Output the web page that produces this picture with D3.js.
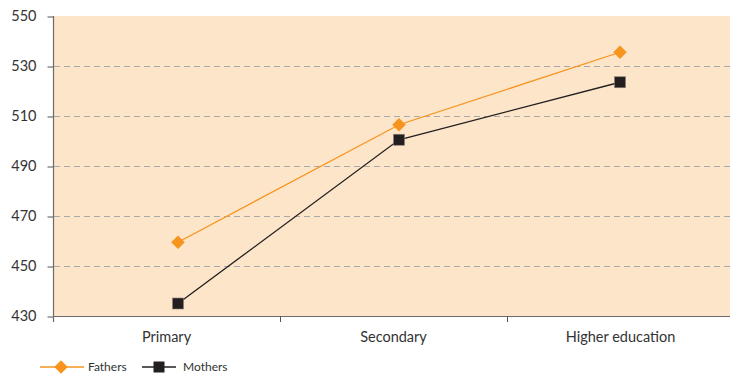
<!DOCTYPE html>
<html>
<head>
<meta charset="utf-8">
<script src="https://cdn.jsdelivr.net/npm/d3@7"></script>
<style>
  html, body { margin: 0; padding: 0; background: #fff; }
  svg { display: block; font-family: Lato, "Open Sans", sans-serif; }
</style>
</head>
<body>
<svg id="chart" width="730" height="374"></svg>
<script>
// Performance by parents' highest level of education
const categories = ["Primary", "Secondary", "Higher education"];
const fathers = [459.5, 506.5, 535.5];
const mothers = [435, 500.5, 523.5];
const yTicks = [430, 450, 470, 490, 510, 530, 550];

const svg = d3.select("#chart");
const plotLeft = 53, plotRight = 734, plotTop = 16, plotBottom = 316;
const fontFamily = "Lato, \"Open Sans\", sans-serif";

const y = d3.scaleLinear().domain([430, 550]).range([plotBottom, plotTop]);
const xBand = d3.scaleBand().domain(categories).range([plotLeft, plotRight]);
const xPoint = d3.scalePoint().domain(categories).range([178, 620]);

// plot background
svg.append("rect")
  .attr("x", plotLeft).attr("y", plotTop)
  .attr("width", 730 - plotLeft).attr("height", plotBottom - plotTop)
  .attr("fill", "#fde5ca");

// dashed gridlines
svg.append("g")
  .selectAll("line")
  .data(yTicks.filter(d => d > 430 && d < 550))
  .join("line")
  .attr("x1", plotLeft + 1).attr("x2", 730)
  .attr("y1", d => y(d) + 0.5).attr("y2", d => y(d) + 0.5)
  .attr("stroke", "#a9a9a9")
  .attr("stroke-width", 1)
  .attr("stroke-dasharray", "6,4");

// y axis
const yAxis = svg.append("g")
  .attr("transform", `translate(${plotLeft + 0.5},0)`)
  .call(d3.axisLeft(y).tickValues(yTicks).tickSize(6).tickPadding(11).tickFormat(d3.format("d")));
yAxis.select(".domain").remove();
yAxis.selectAll(".tick line").attr("stroke", "#555").attr("transform", "translate(0,0.5)");
yAxis.selectAll(".tick text")
  .attr("fill", "#333").attr("font-size", 14.5)
  .attr("font-family", fontFamily);
svg.append("line")
  .attr("x1", plotLeft + 0.5).attr("x2", plotLeft + 0.5)
  .attr("y1", plotTop).attr("y2", plotBottom + 6)
  .attr("stroke", "#6f6a66").attr("stroke-width", 1.2);

// x axis
svg.append("line")
  .attr("x1", plotLeft).attr("x2", 730)
  .attr("y1", plotBottom + 0.5).attr("y2", plotBottom + 0.5)
  .attr("stroke", "#6f6a66").attr("stroke-width", 1.2);
const bounds = categories.slice(1).map(c => xBand(c));
svg.append("g").selectAll("line")
  .data(bounds)
  .join("line")
  .attr("x1", d => Math.round(d) + 0.5).attr("x2", d => Math.round(d) + 0.5)
  .attr("y1", plotBottom).attr("y2", plotBottom + 6)
  .attr("stroke", "#555");
svg.append("g").selectAll("text")
  .data(categories)
  .join("text")
  .attr("x", d => xBand(d) + xBand.bandwidth() / 2)
  .attr("y", plotBottom + 26)
  .attr("text-anchor", "middle")
  .attr("fill", "#333")
  .attr("font-size", 14.5)
  .text(d => d);

// series
const line = d3.line().x((d, i) => xPoint(categories[i])).y(d => y(d));

svg.append("path").datum(fathers)
  .attr("d", line).attr("fill", "none")
  .attr("stroke", "#f7941d").attr("stroke-width", 1.3);
svg.append("path").datum(mothers)
  .attr("d", line).attr("fill", "none")
  .attr("stroke", "#231f20").attr("stroke-width", 1.3);

const diamond = d3.symbol().type(d3.symbolSquare).size(92);
svg.append("g").selectAll("path")
  .data(fathers)
  .join("path")
  .attr("d", diamond)
  .attr("transform", (d, i) => `translate(${xPoint(categories[i])},${y(d)}) rotate(45)`)
  .attr("fill", "#f7941d");

svg.append("g").selectAll("rect")
  .data(mothers)
  .join("rect")
  .attr("x", (d, i) => xPoint(categories[i]) - 5.5)
  .attr("y", d => y(d) - 5.5)
  .attr("width", 11).attr("height", 11)
  .attr("fill", "#231f20")
  .attr("stroke", "#8a7f74").attr("stroke-width", 0.6);

// legend
const legend = svg.append("g");
const ly = 367;
legend.append("line").attr("x1", 40).attr("x2", 84).attr("y1", ly).attr("y2", ly)
  .attr("stroke", "#f7941d").attr("stroke-width", 1.3);
legend.append("path").attr("d", diamond)
  .attr("transform", `translate(61,${ly}) rotate(45)`)
  .attr("fill", "#f7941d");
legend.append("text").attr("x", 88).attr("y", ly + 4)
  .attr("font-size", 12).attr("fill", "#333").text("Fathers");

legend.append("line").attr("x1", 142).attr("x2", 176).attr("y1", ly).attr("y2", ly)
  .attr("stroke", "#231f20").attr("stroke-width", 1.3);
legend.append("rect").attr("x", 153.5).attr("y", ly - 5.5).attr("width", 11).attr("height", 11)
  .attr("fill", "#231f20");
legend.append("text").attr("x", 183).attr("y", ly + 4)
  .attr("font-size", 12).attr("fill", "#333").text("Mothers");
</script>
</body>
</html>
